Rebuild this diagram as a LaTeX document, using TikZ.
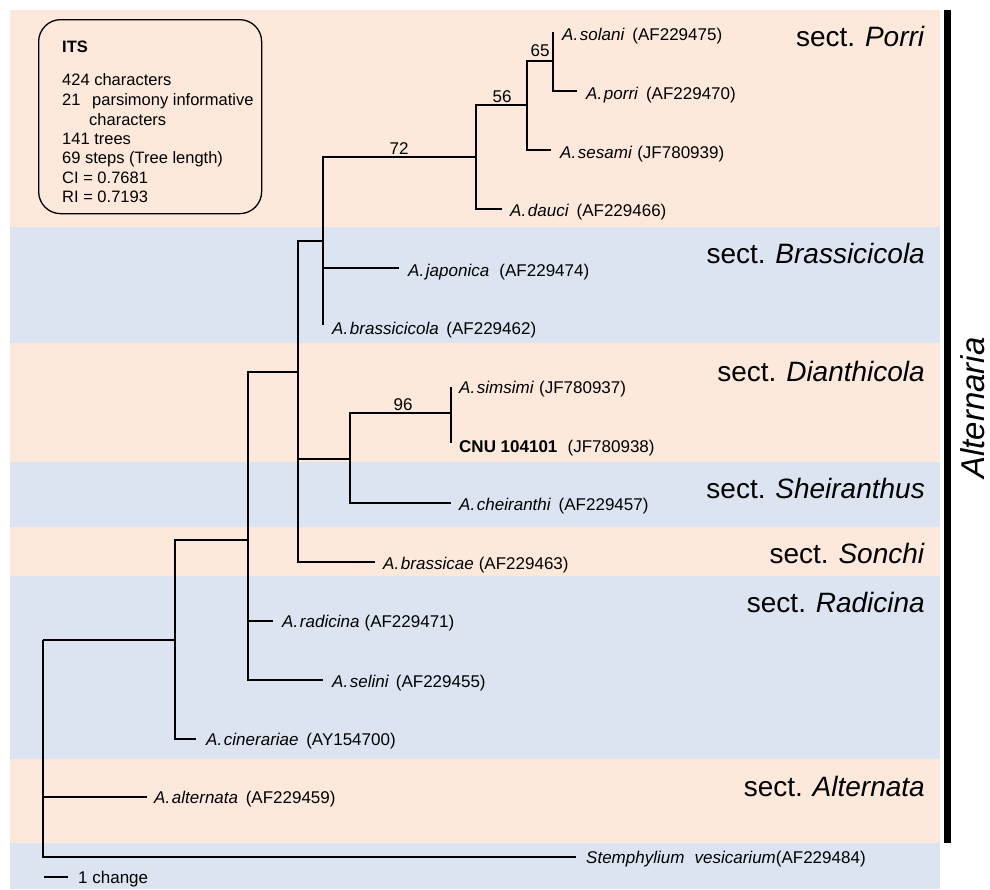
\documentclass[tikz,border=0pt]{standalone}
\usepackage{fontspec}
\setmainfont{Liberation Sans}
\definecolor{peach}{RGB}{252,233,219}
\definecolor{paleblue}{RGB}{219,228,240}
\newcommand{\myleaffont}{\fontsize{17}{20}\selectfont}
\newcommand{\mysecfont}{\fontsize{28}{32}\selectfont}
\newcommand{\myboxfont}{\fontsize{16.5}{19}\selectfont}
\newcommand{\spname}[1]{\textit{#1}}
\begin{document}
\begin{tikzpicture}[x=1pt,y=-1pt,
  branch/.style={line width=1.4pt},
  leaf/.style={anchor=base west, inner sep=0pt, font=\myleaffont},
  boot/.style={anchor=base, inner sep=0pt, font=\myleaffont},
  sectlab/.style={anchor=base east, inner sep=0pt, font=\mysecfont},
  boxtxt/.style={anchor=base west, inner sep=0pt, font=\myboxfont}]
\useasboundingbox (0,0) rectangle (990,889);
% background bands
\fill[peach]    (9.5,10)  rectangle (940,227);
\fill[paleblue] (9.5,227) rectangle (940,343);
\fill[peach]    (9.5,343) rectangle (940,462);
\fill[paleblue] (9.5,462) rectangle (940,527);
\fill[peach]    (9.5,527) rectangle (940,576);
\fill[paleblue] (9.5,576) rectangle (940,759);
\fill[peach]    (9.5,759) rectangle (940,843);
\fill[paleblue] (9.5,843) rectangle (940,889);
% info box
\node[draw, line width=1.3pt, rounded corners=22pt, minimum width=223pt, minimum height=194pt, anchor=north west, inner sep=0pt] (infobox) at (38,19) {};
\node[boxtxt, font=\myboxfont\bfseries] (b1) at (62,52) {ITS};
\node[boxtxt] (b2) at (62,85) {424 characters};
\node[boxtxt] (b3a) at (62,105) {21};
\node[boxtxt] (b3b) at (92,105) {parsimony informative};
\node[boxtxt] (b4) at (89,125) {characters};
\node[boxtxt] (b5) at (62,144) {141 trees};
\node[boxtxt] (b6) at (62,163) {69 steps (Tree length)};
\node[boxtxt] (b7) at (62,183) {CI = 0.7681};
\node[boxtxt] (b8) at (62,202) {RI = 0.7193};
% tree nodes
\coordinate (R) at (43,640);
\coordinate (n175) at (175,640);
\coordinate (n248) at (248,540);
\coordinate (n298) at (298,372);
\coordinate (n323) at (323,241);
\coordinate (n476) at (476,157);
\coordinate (n527) at (527,105);
\coordinate (n553) at (553,61);
\coordinate (n350) at (350,459);
\coordinate (n451) at (451,413);
\coordinate (tsol) at (553,32);
\coordinate (tpor) at (577,91);
\coordinate (tses) at (551,150);
\coordinate (tdau) at (502,209);
\coordinate (tjap) at (399,268);
\coordinate (tbcc) at (323,325);
\coordinate (tsim) at (451,387);
\coordinate (tcnu) at (451,443);
\coordinate (tche) at (451,503);
\coordinate (tbra) at (375,562);
\coordinate (trad) at (273,621);
\coordinate (tsel) at (323,680);
\coordinate (tcin) at (196,739);
\coordinate (talt) at (147,797);
\coordinate (tste) at (576,857);
% branches
\draw[branch] (R) -- (n175);
\draw[branch] (R) |- (talt);
\draw[branch] (R) |- (tste);
\draw[branch] (n175) |- (n248);
\draw[branch] (n175) |- (tcin);
\draw[branch] (n248) |- (n298);
\draw[branch] (n248) |- (trad);
\draw[branch] (n248) |- (tsel);
\draw[branch] (n298) |- (n323);
\draw[branch] (n298) |- (n350);
\draw[branch] (n298) |- (tbra);
\draw[branch] (n323) |- (n476);
\draw[branch] (n323) |- (tjap);
\draw[branch] (n323) |- (tbcc);
\draw[branch] (n476) |- (n527);
\draw[branch] (n476) |- (tdau);
\draw[branch] (n527) |- (n553);
\draw[branch] (n527) |- (tses);
\draw[branch] (n553) |- (tsol);
\draw[branch] (n553) |- (tpor);
\draw[branch] (n350) |- (n451);
\draw[branch] (n350) |- (tche);
\draw[branch] (n451) |- (tsim);
\draw[branch] (n451) |- (tcnu);
% bootstrap values
\node[boot] (bs72) at (399,154) {72};
\node[boot] (bs56) at (502,102) {56};
\node[boot] (bs65) at (540,56) {65};
\node[boot] (bs96) at (403,410) {96};
% leaf labels
\node[leaf] (lsol) at (562,40) {\spname{A.\hspace{0.1em}solani}\hspace{0.45em}(AF229475)};
\node[leaf] (lpor) at (586,99) {\spname{A.\hspace{0.1em}porri}\hspace{0.45em}(AF229470)};
\node[leaf] (lses) at (560,158) {\spname{A.\hspace{0.1em}sesami}\hspace{0.3em}(JF780939)};
\node[leaf] (ldau) at (510,216) {\spname{A.\hspace{0.1em}dauci}\hspace{0.45em}(AF229466)};
\node[leaf] (ljap) at (408,276) {\spname{A.\hspace{0.1em}japonica}\hspace{0.6em}(AF229474)};
\node[leaf] (lbcc) at (332,334) {\spname{A.\hspace{0.1em}brassicicola}\hspace{0.45em}(AF229462)};
\node[leaf] (lsim) at (459,393) {\spname{A.\hspace{0.1em}simsimi}\hspace{0.3em}(JF780937)};
\node[leaf] (lcnu) at (459,452) {\textbf{CNU 104101}\hspace{0.6em}(JF780938)};
\node[leaf] (lche) at (459,510) {\spname{A.\hspace{0.1em}cheiranthi}\hspace{0.45em}(AF229457)};
\node[leaf] (lbra) at (383,569) {\spname{A.\hspace{0.1em}brassicae}\hspace{0.3em}(AF229463)};
\node[leaf] (lrad) at (282,627) {\spname{A.\hspace{0.1em}radicina}\hspace{0.3em}(AF229471)};
\node[leaf] (lsel) at (332,687) {\spname{A.\hspace{0.1em}selini}\hspace{0.4em}(AF229455)};
\node[leaf] (lcin) at (206,745) {\spname{A.\hspace{0.1em}cinerariae}\hspace{0.45em}(AY154700)};
\node[leaf] (lalt) at (154,803) {\spname{A.\hspace{0.1em}alternata}\hspace{0.45em}(AF229459)};
\node[leaf] (lste) at (586,863) {\spname{Stemphylium\hspace{0.6em}vesicarium}\/(AF229484)};
% scale bar
\coordinate (sb1) at (44,877);
\coordinate (sb2) at (68,877);
\draw[line width=1.3pt] (sb1) -- (sb2);
\node[leaf] (sbl) at (78,883) {1 change};
% section labels
\node[sectlab] (sPor) at (925,46) {sect.\hspace{0.35em}\spname{Porri}};
\node[sectlab] (sBra) at (925,263) {sect.\hspace{0.35em}\spname{Brassicicola}};
\node[sectlab] (sDia) at (925,381) {sect.\hspace{0.35em}\spname{Dianthicola}};
\node[sectlab] (sShe) at (925,498) {sect.\hspace{0.35em}\spname{Sheiranthus}};
\node[sectlab] (sSon) at (925,563) {sect.\hspace{0.35em}\spname{Sonchi}};
\node[sectlab] (sRad) at (925,612) {sect.\hspace{0.35em}\spname{Radicina}};
\node[sectlab] (sAlt) at (925,796) {sect.\hspace{0.35em}\spname{Alternata}};
% genus bar
\fill[black] (944,10) rectangle (951,843);
\node[rotate=90, inner sep=0pt, font=\fontsize{33}{38}\selectfont\itshape] (genus) at (973,408) {Alternaria};
\end{tikzpicture}
\end{document}
